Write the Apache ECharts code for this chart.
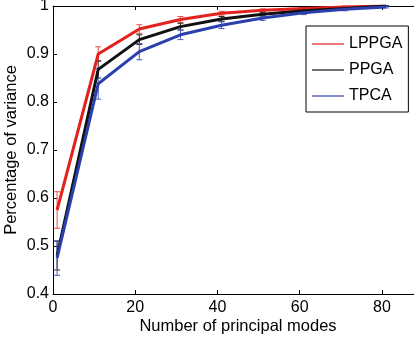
<!DOCTYPE html>
<html>
<head>
<meta charset="utf-8">
<script src="https://cdn.jsdelivr.net/npm/echarts@6/dist/echarts.min.js"></script>
<style>
  html, body { margin: 0; padding: 0; background: #fff; }
  #chart { width: 414px; height: 338px; }
</style>
</head>
<body>
<div id="chart"></div>
<script>
// number of principal modes
const modes = [1, 11, 21, 31, 41, 51, 61, 71, 81]

const lppga = [0.575, 0.900, 0.952, 0.972, 0.985, 0.991, 0.995, 0.998, 1.000]
const lppgaErr = [0.038, 0.015, 0.009, 0.006, 0.004, 0.003, 0.002, 0.002, 0.001]

const ppga = [0.480, 0.868, 0.930, 0.957, 0.973, 0.983, 0.990, 0.995, 1.000]
const ppgaErr = [0.030, 0.018, 0.010, 0.007, 0.005, 0.004, 0.003, 0.002, 0.001]

const tpca = [0.475, 0.838, 0.905, 0.940, 0.960, 0.975, 0.986, 0.993, 0.998]
const tpcaErr = [0.036, 0.032, 0.017, 0.010, 0.007, 0.005, 0.004, 0.003, 0.002]

const yTicks = [0.4, 0.5, 0.6, 0.7, 0.8, 0.9, 1]

const FONT = 'Liberation Sans, Arial, sans-serif'

function pairs(vals) {
  return modes.map((m, i) => [m, vals[i]])
}

function errData(vals, errs) {
  return modes.map((m, i) => [m, vals[i] - errs[i], vals[i] + errs[i]])
}

function errorSeries(name, vals, errs, color) {
  return {
    type: 'custom',
    name: name + ' err',
    data: errData(vals, errs),
    z: 1,
    silent: true,
    renderItem: (params, api) => {
      const lo = api.coord([api.value(0), api.value(1)])
      const hi = api.coord([api.value(0), api.value(2)])
      const cap = 3
      const style = { stroke: color, lineWidth: 1 }
      return {
        type: 'group',
        children: [
          { type: 'line', shape: { x1: lo[0], y1: lo[1], x2: hi[0], y2: hi[1] }, style },
          { type: 'line', shape: { x1: lo[0] - cap, y1: lo[1], x2: lo[0] + cap, y2: lo[1] }, style },
          { type: 'line', shape: { x1: hi[0] - cap, y1: hi[1], x2: hi[0] + cap, y2: hi[1] }, style }
        ]
      }
    }
  }
}

function lineSeries(name, vals, color) {
  return {
    type: 'line',
    name,
    data: pairs(vals),
    symbol: 'none',
    z: 2,
    lineStyle: { color, width: 3 },
    itemStyle: { color }
  }
}

const red = '#e3211d'
const black = '#111111'
const blue = '#2c3fae'

const chart = echarts.init(document.getElementById('chart'))

chart.setOption({
  animation: false,
  grid: { left: 53, top: 6, width: 370, height: 288, outerBoundsMode: 'none', containLabel: false },
  legend: {
    orient: 'vertical',
    left: 306,
    top: 26,
    data: ['LPPGA', 'PPGA', 'TPCA'],
    icon: 'rect',
    itemWidth: 32,
    itemHeight: 1.2,
    itemGap: 10,
    padding: [10, 6, 8, 6],
    borderColor: '#000',
    borderWidth: 1,
    textStyle: { fontFamily: FONT, fontSize: 16, color: '#000', lineHeight: 13 }
  },
  xAxis: [
    {
      type: 'value',
      min: 0,
      max: 90,
      interval: 20,
      name: 'Number of principal modes',
      nameLocation: 'middle',
      nameGap: 24,
      nameMoveOverlap: false,
      nameTextStyle: { fontFamily: FONT, fontSize: 16.5, color: '#000' },
      axisLine: { lineStyle: { color: '#000', width: 1 } },
      axisTick: { inside: true, length: 4, lineStyle: { color: '#000' } },
      axisLabel: { fontFamily: FONT, fontSize: 16, color: '#000', margin: 6,
        formatter: v => (v > 80 ? '' : String(v)) },
      splitLine: { show: false }
    },
    {
      type: 'value',
      position: 'top',
      min: 0,
      max: 90,
      interval: 20,
      axisLine: { lineStyle: { color: '#000', width: 1 } },
      axisTick: { inside: true, length: 4, lineStyle: { color: '#000' } },
      axisLabel: { show: false },
      splitLine: { show: false }
    }
  ],
  yAxis: {
    type: 'value',
    min: 0.4,
    max: 1,
    interval: 0.1,
    name: 'Percentage of variance',
    nameLocation: 'middle',
    nameGap: 33,
    nameMoveOverlap: false,
    nameRotate: 90,
    nameTextStyle: { fontFamily: FONT, fontSize: 16.5, color: '#000' },
    axisLine: { show: true, lineStyle: { color: '#000', width: 1 } },
    axisTick: { show: true, inside: true, length: 4, lineStyle: { color: '#000' } },
    axisLabel: {
      fontFamily: FONT, fontSize: 16, color: '#000', margin: 4,
      formatter: v => {
        const t = yTicks.find(k => Math.abs(k - v) < 1e-6)
        return t === 1 ? '1' : t.toFixed(1)
      }
    },
    splitLine: { show: false }
  },
  series: [
    errorSeries('LPPGA', lppga, lppgaErr, '#e8504c'),
    errorSeries('PPGA', ppga, ppgaErr, '#222222'),
    errorSeries('TPCA', tpca, tpcaErr, '#4a5cc0'),
    lineSeries('LPPGA', lppga, red),
    lineSeries('PPGA', ppga, black),
    lineSeries('TPCA', tpca, blue)
  ]
})
</script>
</body>
</html>
